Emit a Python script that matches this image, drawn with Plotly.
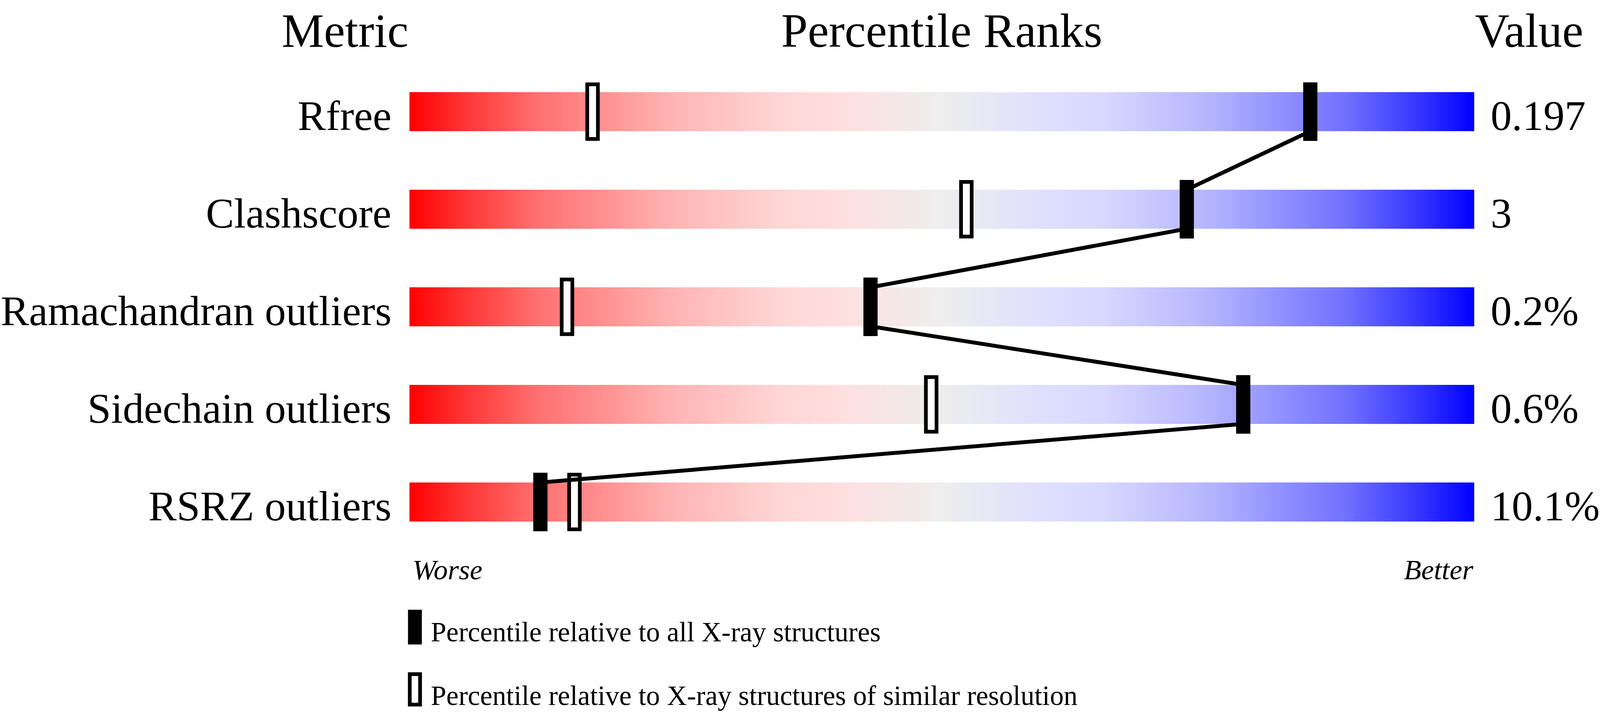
import numpy as np
import plotly.graph_objects as go

# chart data
metrics = ["Rfree", "Clashscore", "Ramachandran outliers", "Sidechain outliers", "RSRZ outliers"]
values = ["0.197", "3", "0.2%", "0.6%", "10.1%"]
pct_all = [84.6, 73.0, 43.3, 78.3, 12.3]        # relative to all X-ray structures
pct_similar = [17.2, 52.3, 14.8, 49.0, 15.5]    # relative to similar resolution
legend_labels = ["Percentile relative to all X-ray structures",
                 "Percentile relative to X-ray structures of similar resolution"]

# worse -> better colour ramp
ramp = [[0.00, "#FF0000"], [0.05, "#FF3333"], [0.12, "#FF7070"], [0.25, "#FFB5B5"],
        [0.35, "#FFD6D6"], [0.40, "#FFDEDE"], [0.50, "#EEEEEE"], [0.60, "#DEDEFF"],
        [0.65, "#D8D8FF"], [0.75, "#B5B5FF"], [0.88, "#7070FF"], [0.95, "#3333FF"],
        [1.00, "#0000FF"]]

# layout measured on a 4506 wide page; the browser only shows 4096 of it,
# so horizontal sizes are scaled to fit
REF_W, W, H = 4506, 4096, 1824
fx = W / REF_W
BAR_LEFT, BAR_RIGHT = 1153, 4152
ROW0, ROW_STEP = 286, 250
FONT = "Liberation Serif"

rows = np.arange(len(metrics))
px_per_pct = (BAR_RIGHT - BAR_LEFT) / 100.0   # in reference pixels
u = 1.0 / ROW_STEP   # y units per pixel

# gradient strips: heatmap with gaps between rows
x_edges = np.linspace(0, 100, 401)
x_mid = (x_edges[:-1] + x_edges[1:]) / 2
y_edges = []
z = []
for i in rows:
    y_edges += [i - 50 * u, i + 50 * u]
    z.append(x_mid)
    if i < rows[-1]:
        z.append([None] * len(x_mid))

fig = go.Figure()
fig.add_trace(go.Heatmap(x=x_edges, y=y_edges, z=z, colorscale=ramp, zmin=0, zmax=100,
                         showscale=False, hoverinfo="skip"))

# open markers (similar resolution)
fig.add_trace(go.Bar(x=pct_similar, y=[140 * u] * len(rows), base=rows - 70 * u,
                     width=30 / px_per_pct,
                     marker=dict(color="white", line=dict(color="black", width=9.5)),
                     hoverinfo="skip", showlegend=False))

# line joining the filled markers
lx, ly = [], []
for i, p in zip(rows, pct_all):
    lx += [p, p]
    ly += [i - 50 * u, i + 50 * u]
fig.add_trace(go.Scatter(x=lx, y=ly, mode="lines", line=dict(color="black", width=10),
                         hoverinfo="skip", showlegend=False))

# filled markers (all X-ray), on an overlaid axis so they sit above the line
fig.add_trace(go.Bar(x=pct_all, y=[150 * u] * len(rows), base=rows - 75 * u,
                     width=40 / px_per_pct, marker=dict(color="black", line=dict(width=0)),
                     yaxis="y2", hoverinfo="skip", showlegend=False))


def py(pix):
    return (pix - ROW0) / ROW_STEP


def fs(size):
    return round(size * fx, 1)


ann = []
for i, (m, v) in enumerate(zip(metrics, values)):
    ann.append(dict(x=0, y=i + 0.04, text=m, xanchor="right", yanchor="middle", xshift=-49 * fx,
                    font=dict(size=fs(119))))
    ann.append(dict(x=100, y=i + 0.04, text=v, xanchor="left", yanchor="middle", xshift=40,
                    font=dict(size=fs(119))))

ann += [
    dict(x=0, y=py(78), text="Metric", xanchor="right", yanchor="middle", font=dict(size=fs(134))),
    dict(x=50, y=py(78), text="Percentile Ranks", xanchor="center", yanchor="middle",
         font=dict(size=fs(134))),
    dict(x=100, y=py(78), text="Value", xanchor="left", yanchor="middle", font=dict(size=fs(134))),
    dict(x=0, y=py(1459), text="<i>Worse</i>", xanchor="left", yanchor="middle", xshift=6 * fx,
         font=dict(size=fs(80))),
    dict(x=100, y=py(1459), text="<i>Better</i>", xanchor="right", yanchor="middle",
         font=dict(size=fs(80))),
    dict(x=1.93, y=py(1619), text=legend_labels[0], xanchor="left", yanchor="middle",
         font=dict(size=fs(78))),
    dict(x=1.93, y=py(1782), text=legend_labels[1], xanchor="left", yanchor="middle",
         font=dict(size=fs(78))),
]
for a in ann:
    a.update(xref="x", yref="y", showarrow=False)

# legend keys
shapes = [
    dict(type="rect", xref="paper", yref="paper", x0=1149 / REF_W, x1=1188 / REF_W,
         y0=1 - 1651 / H, y1=1 - 1562 / H, fillcolor="black", line=dict(width=0)),
    dict(type="rect", xref="paper", yref="paper", x0=1154 / REF_W, x1=1183 / REF_W,
         y0=1 - 1805 / H, y1=1 - 1727 / H, fillcolor="white", line=dict(color="black", width=9.5)),
]

yr = [py(H), py(0)]
fig.update_layout(
    width=W, height=H,
    margin=dict(l=0, r=0, t=0, b=0),
    paper_bgcolor="white", plot_bgcolor="white",
    font=dict(family=FONT, color="black"),
    barmode="overlay",
    showlegend=False,
    xaxis=dict(domain=[BAR_LEFT / REF_W, BAR_RIGHT / REF_W], range=[0, 100], visible=False,
               fixedrange=True),
    yaxis=dict(domain=[0, 1], range=yr, visible=False, fixedrange=True),
    yaxis2=dict(overlaying="y", range=yr, visible=False, fixedrange=True),
    annotations=ann,
    shapes=shapes,
)

fig.write_html("out.html", config={"displayModeBar": False},
               post_script="document.body.style.margin = '0px';")
